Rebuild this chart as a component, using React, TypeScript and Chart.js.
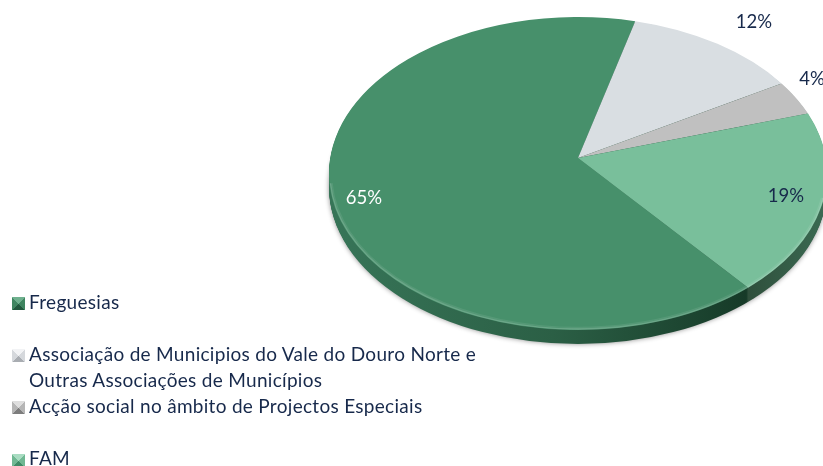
import { useEffect, useRef } from "react";
import { Chart, registerables } from "chart.js";

Chart.register(...registerables);

const categories = [
  "Freguesias",
  "Associação de Municipios do Vale do Douro Norte e Outras Associações de Municípios",
  "Acção social no âmbito de Projectos Especiais",
  "FAM",
];
const legendLines = [
  ["Freguesias"],
  ["Associação de Municipios do Vale do Douro Norte e", "Outras Associações de Municípios"],
  ["Acção social no âmbito de Projectos Especiais"],
  ["FAM"],
];
const shares = [65.4, 11.5, 3.5, 19.2];
const sliceColors = ["#47906b", "#d9dee2", "#c0c0c0", "#79bf9b"];
const valueLabels = ["65%", "12%", "4%", "19%"];
const labelColors = ["#ffffff", "#17294b", "#17294b", "#17294b"];

const CX = 578;
const APEX_Y = 158;
const CY = 173.5;
const RX = 249;
const RY = 156.5;
const DEPTH = 14;
const FONT = "Lato, sans-serif";
const labelAnchors: [number, number][] = [[364, 198], [754, 22], [812, 79], [786, 196]];
const legendTops = [292, 344, 370, 396, 448];
const markerStyles = [
  { top: 297, light: "#6fb08e", mid: "#3f8560", dark: "#22573d" },
  { top: 349, light: "#f2f3f5", mid: "#d5d8dc", dark: "#a9adb2" },
  { top: 401, light: "#dedede", mid: "#b5b5b5", dark: "#7d7d7d" },
  { top: 454, light: "#a9dcc2", mid: "#70b893", dark: "#3f8b66" },
];

const ellipsePie = {
  id: "ellipsePie",
  beforeDatasetsDraw(chart: any) {
    const ctx: CanvasRenderingContext2D = chart.ctx;
    // soft shadow below the disc
    ctx.save();
    ctx.shadowColor = "rgba(0,0,0,0.45)";
    ctx.shadowBlur = 5;
    ctx.shadowOffsetY = 1;
    ctx.beginPath();
    ctx.ellipse(CX, CY + DEPTH - 1, RX, RY, 0, 0, Math.PI * 2);
    ctx.fillStyle = "#2a5c42";
    ctx.fill();
    ctx.restore();
    // rim of the disc
    const grad = ctx.createLinearGradient(CX - RX, 0, CX + RX, 0);
    grad.addColorStop(0, "#377558");
    grad.addColorStop(0.45, "#2b5f45");
    grad.addColorStop(0.838, "#163a28");
    grad.addColorStop(0.842, "#2f4f3c");
    grad.addColorStop(1, "#3b6b53");
    for (let k = DEPTH; k >= 1; k--) {
      ctx.beginPath();
      ctx.ellipse(CX, CY + k, RX, RY, 0, 0, Math.PI * 2);
      ctx.fillStyle = grad;
      ctx.fill();
    }
  },
  // The disc is seen in perspective, so each slice is filled from the angles
  // the pie controller gave its arc element, running to an off-centre apex.
  beforeDatasetDraw(chart: any) {
    const ctx: CanvasRenderingContext2D = chart.ctx;
    chart.getDatasetMeta(0).data.forEach((arc: any) => {
      ctx.beginPath();
      ctx.moveTo(CX, APEX_Y);
      ctx.ellipse(CX, CY, RX, RY, 0, arc.startAngle, arc.endAngle);
      ctx.closePath();
      ctx.fillStyle = arc.options.backgroundColor;
      ctx.fill();
    });
    return false;
  },
  afterDatasetsDraw(chart: any) {
    const ctx: CanvasRenderingContext2D = chart.ctx;
    // light bevel along the lower edge
    [[1, 0.2], [2.5, 0.08]].forEach(([inset, alpha]) => {
      ctx.beginPath();
      ctx.ellipse(CX, CY, RX - inset, RY - inset, 0, 0.05 * Math.PI, 0.98 * Math.PI);
      ctx.strokeStyle = `rgba(255,255,255,${alpha})`;
      ctx.lineWidth = 1.4;
      ctx.stroke();
    });
    // value labels
    ctx.save();
    ctx.font = `18.5px ${FONT}`;
    ctx.textAlign = "center";
    ctx.textBaseline = "middle";
    valueLabels.forEach((t, i) => {
      ctx.fillStyle = labelColors[i];
      ctx.fillText(t, labelAnchors[i][0], labelAnchors[i][1]);
    });
    ctx.restore();
  },
};

export default function App() {
  const ref = useRef<HTMLCanvasElement>(null);
  useEffect(() => {
    const chart = new Chart(ref.current!, {
      type: "pie",
      data: {
        labels: categories,
        datasets: [{ data: shares, backgroundColor: sliceColors, borderWidth: 0 }],
      },
      options: {
        animation: false,
        responsive: false,
        rotation: -223.1,
        plugins: { legend: { display: false }, tooltip: { enabled: false } },
      },
      plugins: [ellipsePie],
    } as any);
    return () => chart.destroy();
  }, []);

  const rows: { text: string; top: number }[] = legendLines
    .flat()
    .map((text, i) => ({ text, top: legendTops[i] }));

  return (
    <div style={{ position: "absolute", left: 0, top: 0, width: 823, height: 466, overflow: "hidden", background: "#fff" }}>
      <canvas ref={ref} width={823} height={466} style={{ display: "block", position: "absolute", left: 0, top: 0 }} />
      {rows.map((r) => (
        <div
          key={r.text}
          style={{
            position: "absolute",
            left: 29,
            top: r.top,
            font: `19px/20px ${FONT}`,
            letterSpacing: "0.3px",
            color: "#17294b",
            whiteSpace: "nowrap",
          }}
        >
          {r.text}
        </div>
      ))}
      {markerStyles.map((m) => (
        <div
          key={m.top}
          style={{
            position: "absolute",
            left: 12,
            top: m.top,
            width: 13,
            height: 13,
            filter: "blur(0.4px)",
            background: `conic-gradient(from 135deg at 50% 50%, ${m.dark} 0 25%, ${m.mid} 25% 50%, ${m.light} 50% 75%, ${m.mid} 75% 100%)`,
          }}
        />
      ))}
    </div>
  );
}
